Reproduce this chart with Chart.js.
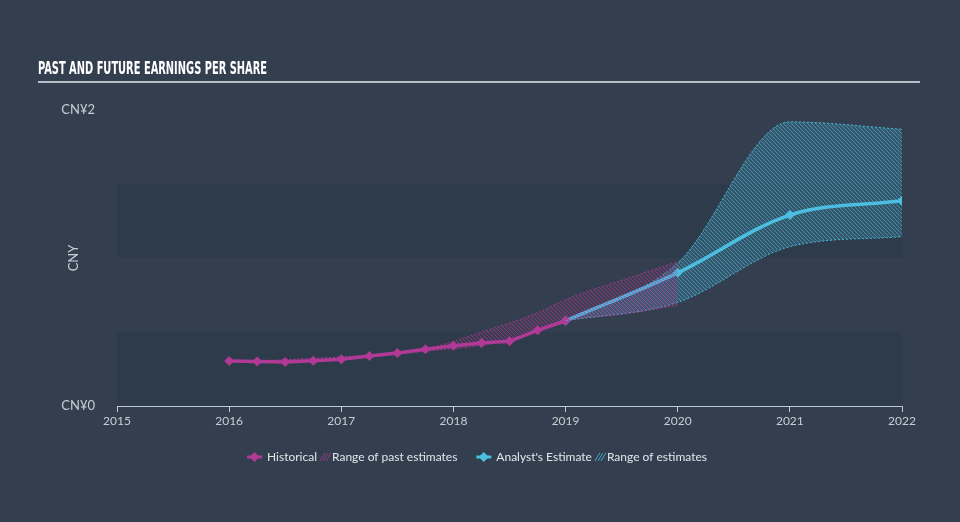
<!DOCTYPE html>
<html>
<head>
<meta charset="utf-8">
<script src="https://cdn.jsdelivr.net/npm/chart.js"></script>
<style>
  html, body { margin: 0; padding: 0; background: #333f4f; }
  #wrap { width: 960px; height: 522px; position: relative; }
</style>
</head>
<body>
<div id="wrap"><canvas id="epsChart" width="960" height="522"></canvas></div>
<script>
/* values */
const yearTicks = [2015, 2016, 2017, 2018, 2019, 2020, 2021, 2022];

// historical EPS, quarterly
const histX = [2016, 2016.25, 2016.5, 2016.75, 2017, 2017.25, 2017.5, 2017.75, 2018, 2018.25, 2018.5, 2018.75, 2019];
const histEps = [0.304, 0.301, 0.297, 0.306, 0.316, 0.338, 0.358, 0.383, 0.407, 0.426, 0.437, 0.511, 0.576];

// range of past estimates
const pastX = [2016.25, 2016.75, 2017.25, 2017.75, 2018.25, 2018.75, 2019, 2019.5, 2020];
const pastHigh = [0.305, 0.322, 0.345, 0.385, 0.50, 0.63, 0.72, 0.85, 0.975];
const pastLow = [0.298, 0.300, 0.33, 0.37, 0.41, 0.50, 0.575, 0.62, 0.68];

// analyst estimates
const estX = [2019, 2020, 2021, 2022];
const estEps = [0.576, 0.90, 1.29, 1.387];
const estHigh = [0.576, 0.966, 1.92, 1.87];
const estLow = [0.576, 0.70, 1.076, 1.144];

const yTickLabels = { 0: 'CN¥0', 2: 'CN¥2' };

const PINK = 'rgb(176, 58, 150)';
const CYAN = 'rgb(76, 190, 226)';
const TEXT = '#c9ced4';

function toPoints(xs, ys) {
    return xs.map((x, i) => ({ x: x, y: ys[i] }));
}

/* diagonal hatch fill */
function makeHatch(lineColor, bgColor) {
    let c = document.createElement('canvas');
    c.width = 4; c.height = 4;
    let g = c.getContext('2d');
    g.fillStyle = bgColor;
    g.fillRect(0, 0, 4, 4);
    g.strokeStyle = lineColor;
    g.lineWidth = 1;
    g.beginPath();
    g.moveTo(-1, -1); g.lineTo(5, 5);
    g.moveTo(-1, 3); g.lineTo(1, 5);
    g.moveTo(3, -1); g.lineTo(5, 1);
    g.stroke();
    return g.createPattern(c, 'repeat');
}
const pinkHatch = makeHatch('rgba(176, 58, 150, 0.6)', 'rgba(176, 58, 150, 0.1)');
const cyanHatch = makeHatch('rgba(76, 190, 226, 0.55)', 'rgba(76, 190, 226, 0.2)');

/* alternating horizontal bands behind the plot */
const bandsPlugin = {
    id: 'bands',
    beforeDraw(chart) {
        let ctx = chart.ctx, a = chart.chartArea, y = chart.scales.y;
        ctx.save();
        ctx.fillStyle = 'rgba(20, 30, 42, 0.12)';
        [[0, 0.5], [1, 1.5]].forEach(b => {
            let top = y.getPixelForValue(b[1]), bot = y.getPixelForValue(b[0]);
            ctx.fillRect(a.left, top, a.right - a.left, bot - top);
        });
        ctx.restore();
    }
};

/* title, y caption and legend */
const decorPlugin = {
    id: 'decor',
    afterDraw(chart) {
        let ctx = chart.ctx;
        ctx.save();
        // title, condensed
        let title = 'PAST AND FUTURE EARNINGS PER SHARE';
        ctx.font = 'bold 18px "Liberation Sans Narrow", "DejaVu Sans Condensed", sans-serif';
        let w = ctx.measureText(title).width;
        ctx.fillStyle = '#ffffff';
        ctx.textBaseline = 'alphabetic';
        ctx.translate(38, 74);
        ctx.scale(229 / w, 1);
        ctx.fillText(title, 0, 0);
        ctx.setTransform(1, 0, 0, 1, 0, 0);
        ctx.fillStyle = '#b9bfc6';
        ctx.fillRect(38, 81, 882, 2);

        // y caption
        let ys = chart.scales.y;
        ctx.save();
        ctx.translate(74, ys.getPixelForValue(1));
        ctx.rotate(-Math.PI / 2);
        ctx.font = '13px Lato, sans-serif';
        ctx.fillStyle = TEXT;
        ctx.textAlign = 'center';
        ctx.textBaseline = 'middle';
        ctx.fillText('CNY', 0, 0);
        ctx.restore();

        // legend
        ctx.font = '12px Lato, sans-serif';
        ctx.textBaseline = 'middle';
        ctx.textAlign = 'left';
        let ly = 457;
        let x = 247;
        function marker(col) {
            ctx.strokeStyle = col; ctx.lineWidth = 3;
            ctx.beginPath(); ctx.moveTo(x, ly); ctx.lineTo(x + 15, ly); ctx.stroke();
            ctx.fillStyle = col;
            ctx.beginPath();
            ctx.moveTo(x + 7.5, ly - 5); ctx.lineTo(x + 12.5, ly);
            ctx.lineTo(x + 7.5, ly + 5); ctx.lineTo(x + 2.5, ly);
            ctx.closePath(); ctx.fill();
            x += 20;
        }
        function hatchIcon(col) {
            ctx.strokeStyle = col; ctx.lineWidth = 1;
            ctx.beginPath();
            for (let i = 0; i < 3; i++) {
                ctx.moveTo(x + i * 3, ly + 4); ctx.lineTo(x + i * 3 + 5, ly - 4);
            }
            ctx.stroke();
            x += 12;
        }
        function label(t, gap) {
            ctx.fillStyle = '#e2e6ea';
            ctx.fillText(t, x, ly);
            x += ctx.measureText(t).width + gap;
        }
        marker(PINK); label('Historical', 3);
        hatchIcon('rgba(176, 58, 150, 0.8)'); label('Range of past estimates', 19);
        marker(CYAN); label("Analyst's Estimate", 3);
        hatchIcon('rgba(76, 190, 226, 0.8)'); label('Range of estimates', 0);
        ctx.restore();
    }
};

const rangeStyle = (col, fillTarget, bg) => ({
    borderColor: col,
    borderWidth: 1,
    borderDash: [2, 2],
    pointRadius: 0,
    cubicInterpolationMode: 'monotone',
    fill: fillTarget,
    backgroundColor: bg
});

let config = {
    type: 'line',
    data: {
        datasets: [
            Object.assign({ label: 'pastHigh', data: toPoints(pastX, pastHigh) }, rangeStyle('rgba(176, 58, 150, 0.8)', 1, pinkHatch)),
            Object.assign({ label: 'pastLow', data: toPoints(pastX, pastLow) }, rangeStyle('rgba(176, 58, 150, 0.8)', false, pinkHatch)),
            Object.assign({ label: 'estHigh', data: toPoints(estX, estHigh) }, rangeStyle('rgba(76, 190, 226, 0.9)', 3, cyanHatch)),
            Object.assign({ label: 'estLow', data: toPoints(estX, estLow) }, rangeStyle('rgba(76, 190, 226, 0.9)', false, cyanHatch)),
            {
                label: 'Historical',
                data: toPoints(histX, histEps),
                borderColor: PINK,
                borderWidth: 3.5,
                pointStyle: 'rectRot',
                pointRadius: 5,
                pointBackgroundColor: PINK,
                pointBorderWidth: 0,
                fill: false
            },
            {
                label: "Analyst's Estimate",
                data: toPoints(estX, estEps),
                borderColor: CYAN,
                borderWidth: 3.5,
                cubicInterpolationMode: 'monotone',
                pointStyle: 'rectRot',
                pointRadius: 5,
                pointBackgroundColor: CYAN,
                pointBorderWidth: 0,
                fill: false
            }
        ]
    },
    options: {
        responsive: false,
        animation: false,
        layout: { padding: { left: 0, right: 58, top: 110, bottom: 86 } },
        plugins: { legend: { display: false }, tooltip: { enabled: false } },
        scales: {
            x: {
                type: 'linear',
                min: 2015,
                max: 2022,
                afterBuildTicks: s => { s.ticks = yearTicks.map(v => ({ value: v })); },
                afterFit: s => { s.height = 30; },
                grid: { drawOnChartArea: false, drawTicks: true, tickLength: 6, color: '#c2c8cf' },
                border: { display: true, color: '#c2c8cf', width: 1 },
                ticks: {
                    color: TEXT,
                    font: { family: 'Lato', size: 12 },
                    padding: 2,
                    maxRotation: 0,
                    callback: v => String(v)
                }
            },
            y: {
                min: 0,
                max: 2,
                afterBuildTicks: s => { s.ticks = [{ value: 0 }, { value: 2 }]; },
                afterFit: s => { s.width = 117; },
                grid: { display: false },
                border: { display: false },
                ticks: {
                    color: TEXT,
                    font: { family: 'Lato', size: 13 },
                    padding: 14,
                    callback: v => yTickLabels[v]
                }
            }
        }
    },
    plugins: [bandsPlugin, decorPlugin]
};

let epsChart = new Chart(document.getElementById('epsChart').getContext('2d'), config);
</script>
</body>
</html>
